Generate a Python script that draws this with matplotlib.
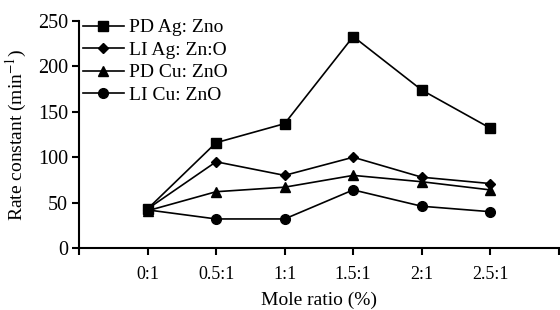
import matplotlib
matplotlib.use("Agg")
import matplotlib.pyplot as plt

plt.rcParams['font.family'] = ['Liberation Serif', 'DejaVu Serif']
plt.rcParams['mathtext.fontset'] = 'stix'

ratios = ["0:1", "0.5:1", "1:1", "1.5:1", "2:1", "2.5:1"]
pd_ag = [43, 116, 137, 233, 174, 132]
li_ag = [43, 95, 80, 100, 78, 71]
pd_cu = [41, 62, 67, 80, 73, 64]
li_cu = [42, 32, 32, 64, 46, 40]

x = list(range(1, len(ratios) + 1))

fig = plt.figure(figsize=(5.6, 3.1), dpi=100)
ax = fig.add_axes([0.141, 0.2, 0.857, 0.732])

ax.plot(x, pd_ag, color="black", lw=1.2, marker="s", ms=7, label="PD Ag: Zno")
ax.plot(x, li_ag, color="black", lw=1.2, marker="D", ms=5.5, label="LI Ag: Zn:O")
ax.plot(x, pd_cu, color="black", lw=1.2, marker="^", ms=7.5, label="PD Cu: ZnO")
ax.plot(x, li_cu, color="black", lw=1.2, marker="o", ms=7, label="LI Cu: ZnO")

ax.set_xlim(0, 7)
ax.set_ylim(0, 250)
ax.set_xticks([0] + x + [7])
ax.set_xticklabels([""] + ratios + [""])
ax.set_yticks([0, 50, 100, 150, 200, 250])
ax.tick_params(width=1.5, length=5, direction="out")
ax.tick_params(axis="x", labelsize=13, pad=8)
ax.tick_params(axis="y", labelsize=14.5, pad=3)
for s in ["top", "right"]:
    ax.spines[s].set_visible(False)
for s in ["left", "bottom"]:
    ax.spines[s].set_linewidth(1.5)

ax.set_xlabel("Mole ratio (%)", fontsize=14, labelpad=6)
ax.set_ylabel("Rate constant (min$^{-1}$)", fontsize=14, labelpad=6)

ax.legend(loc="upper left", bbox_to_anchor=(-0.02, 1.07), frameon=False, fontsize=14,
          handlelength=2.1, handletextpad=0.25, labelspacing=0.25, borderaxespad=0.3)

fig.savefig("out.png", dpi=100)
